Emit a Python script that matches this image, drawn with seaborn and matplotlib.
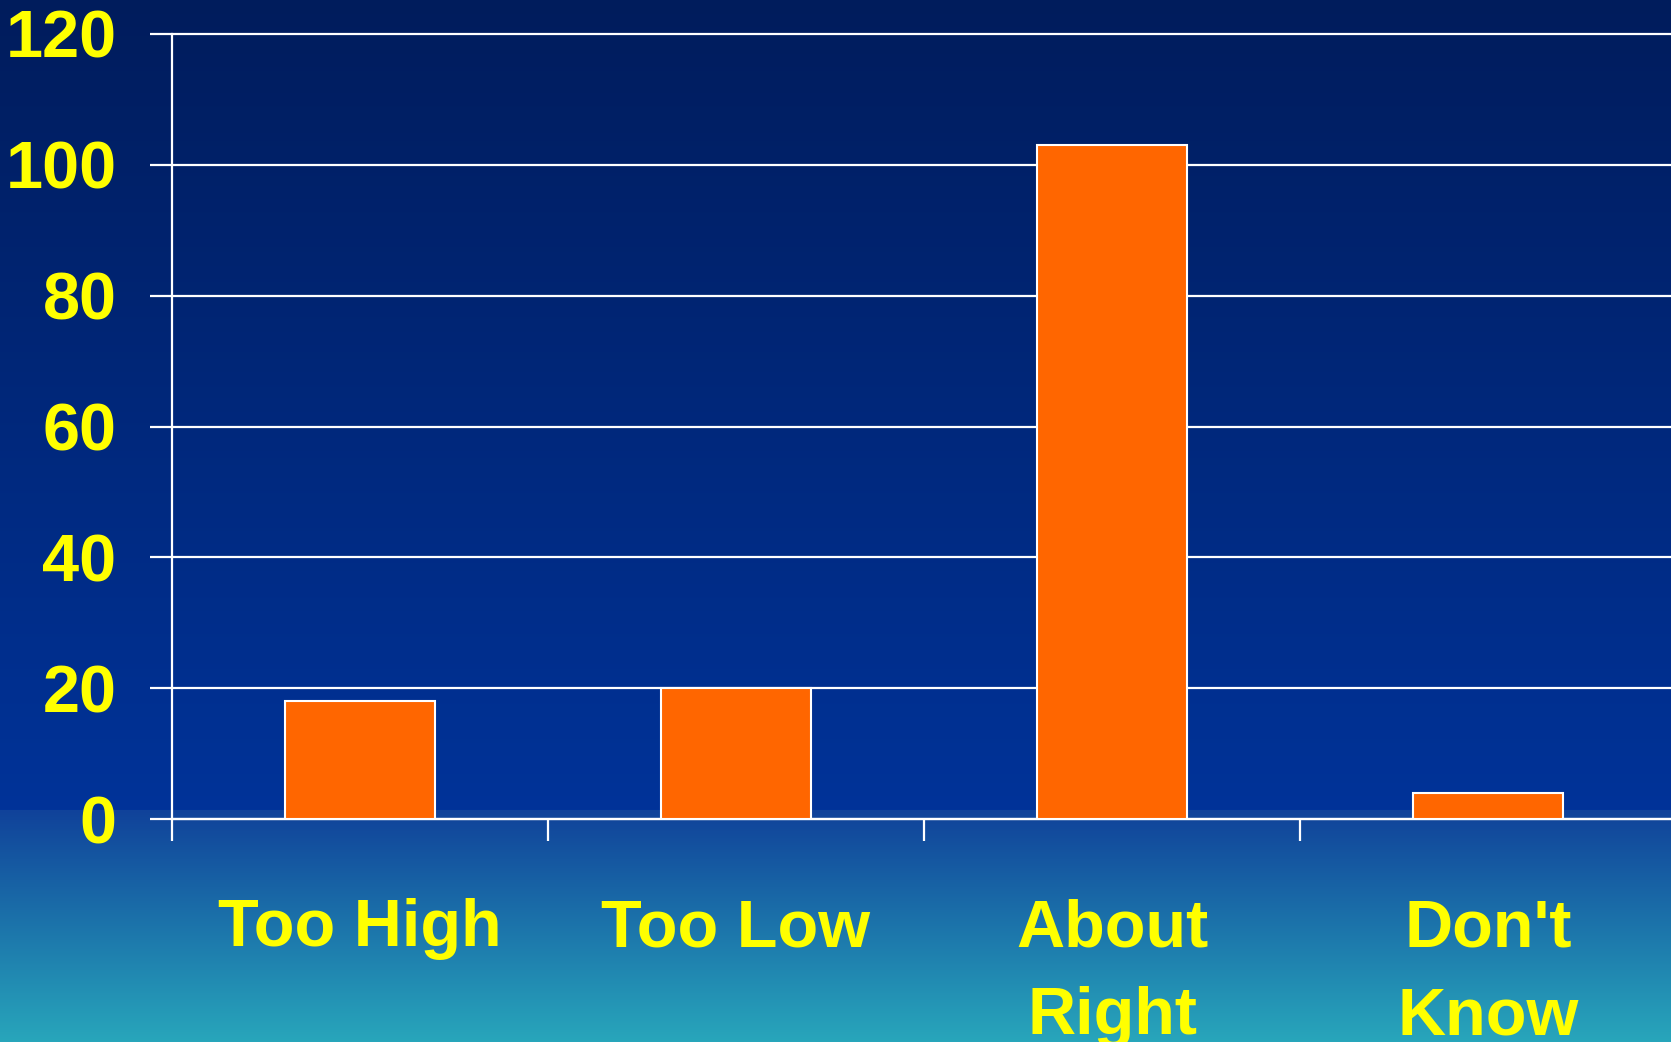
import numpy as np
import pandas as pd
import matplotlib
matplotlib.use("Agg")
import matplotlib.pyplot as plt
import seaborn as sns
from matplotlib.colors import to_rgb
from matplotlib.ticker import FixedLocator

# Survey responses
categories = ["Too High", "Too Low", "About\nRight", "Don't\nKnow"]
counts = [18, 20, 103, 4]
y_ticks = [0, 20, 40, 60, 80, 100, 120]

sns.set_theme(style="white")
plt.rcParams["font.family"] = ["Liberation Sans", "DejaVu Sans"]

W, H = 1671, 1042
fig = plt.figure(figsize=(W / 100, H / 100), dpi=100)

# Two-part vertical gradient backdrop: navy to royal blue, then blue to teal
split = 810
upper = np.linspace(to_rgb("#001c5c"), to_rgb("#003399"), split)
lower = np.linspace(to_rgb("#10429a"), to_rgb("#28a6bb"), H - split)
grad = np.concatenate([upper, lower])[:, None, :]
bg = fig.add_axes([0, 0, 1, 1], zorder=0)
bg.imshow(grad, aspect="auto", extent=[0, 1, 0, 1], interpolation="bilinear")
bg.set_axis_off()

# Plot area
ax = fig.add_axes([172 / W, 223 / H, (1676 - 172) / W, (819 - 34) / H], zorder=1)
ax.patch.set_alpha(0)

df = pd.DataFrame({"response": categories, "count": counts})
sns.barplot(data=df, x="response", y="count", color="#FF6600", saturation=1,
            edgecolor="white", linewidth=1.5, width=0.4, ax=ax, zorder=3)

ax.set_xlim(-0.5, 3.5)
ax.set_ylim(0, 120)
ax.set_yticks(y_ticks)
ax.set_xlabel("")
ax.set_ylabel("")

ax.yaxis.grid(True, color="white", linewidth=1.6)
ax.set_axisbelow(True)
for gl in ax.get_ygridlines():
    gl.set_clip_on(False)

for side in ("top", "right"):
    ax.spines[side].set_visible(False)
for side in ("left", "bottom"):
    ax.spines[side].set_color("white")
    ax.spines[side].set_linewidth(1.6)

label_style = dict(fontsize=48, fontweight="bold", color="#FFFF00")
ax.tick_params(axis="y", direction="out", length=16, width=1.6, color="white",
               pad=24, left=True)
for lbl in ax.get_yticklabels():
    lbl.set(**label_style)

ax.tick_params(axis="x", which="major", length=0, pad=57)
ax.xaxis.set_minor_locator(FixedLocator([-0.5, 0.5, 1.5, 2.5]))
ax.tick_params(axis="x", which="minor", direction="out", length=16, width=1.6,
               color="white", bottom=True)
for lbl in ax.get_xticklabels():
    lbl.set(**label_style)
    lbl.set_linespacing(1.54)

fig.savefig("out.png", dpi=100)
